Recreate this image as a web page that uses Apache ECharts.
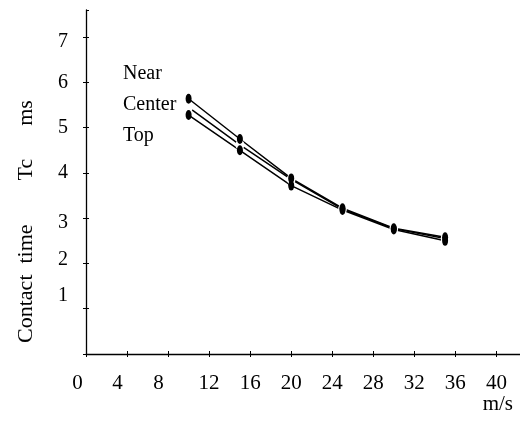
<!DOCTYPE html>
<html>
<head>
<meta charset="utf-8">
<script src="https://cdn.jsdelivr.net/npm/echarts@6/dist/echarts.min.js"></script>
<style>
html,body{margin:0;padding:0;background:#fff;}
#chart{width:520px;height:425px;}
</style>
</head>
<body>
<div id="chart"></div>
<script>
// ---- data ----
const speeds = [10, 15, 20, 25, 30, 35];           // m/s
const nearTc = [5.64, 4.75, 3.88, 3.22, 2.78, 2.58]; // ms
const centerTc = [5.45, 4.62, 3.86, 3.20, 2.77, 2.55];
const topTc = [5.28, 4.50, 3.72, 3.18, 2.75, 2.50];
const seriesNames = ['Near', 'Center', 'Top'];
const xAxisTitle = 'm/s';
const yAxisTitle = 'Contact  time        Tc      ms';

const FONT = "'Liberation Serif', 'DejaVu Serif', serif";
const pairs = v => speeds.map((s, i) => [s, v[i]]);

const chart = echarts.init(document.getElementById('chart'), null, {renderer: 'canvas'});

// per-label nudges for the scanned original's uneven label placement (style only)
const xRich = {
  a: {fontFamily: FONT, fontSize: 21, color: '#000', padding: [0, 17, 0, 0]},
  b: {fontFamily: FONT, fontSize: 21, color: '#000', padding: [0, 19, 0, 0]},
  n: {fontFamily: FONT, fontSize: 21, color: '#000'}
};
const yRich = {
  dn: {fontFamily: FONT, fontSize: 20, color: '#000', padding: [10, 0, 0, 0]},
  up: {fontFamily: FONT, fontSize: 20, color: '#000', padding: [0, 0, 8, 0]},
  up2: {fontFamily: FONT, fontSize: 20, color: '#000', padding: [0, 0, 26, 0]},
  n: {fontFamily: FONT, fontSize: 20, color: '#000'}
};

const baseLine = {lineStyle: {color: '#000', width: 1.5}};
const option = {
  backgroundColor: '#fff',
  animation: false,
  textStyle: {fontFamily: FONT, color: '#000'},
  grid: {left: 86, right: 0, top: 10, bottom: 71, containLabel: false},
  legend: {
    data: seriesNames,
    orient: 'vertical',
    left: 113, top: 59,
    icon: 'none', itemWidth: 0, itemHeight: 20, itemGap: 11,
    textStyle: {fontFamily: FONT, fontSize: 20, color: '#000'},
    selectedMode: false
  },
  xAxis: [{
    type: 'value', min: 0, max: 42.3, interval: 4,
    axisLine: {show: true, lineStyle: {color: '#000', width: 1.3}},
    axisTick: {show: true, inside: false, length: 3, lineStyle: {color: '#000'}},
    splitLine: {show: false},
    axisLabel: {
      margin: 19, color: '#000', fontFamily: FONT, fontSize: 21,
      showMaxLabel: false,
      formatter: v => (v === 0 ? '{a|0}' : v === 4 || v === 8 ? '{b|' + v + '}' : '{n|' + v + '}'),
      rich: xRich
    },
    name: xAxisTitle, nameLocation: 'end', nameGap: -7,
    nameTextStyle: {fontFamily: FONT, fontSize: 21, color: '#000', align: 'right', verticalAlign: 'top', padding: [40, 0, 0, 0]}
  }, {
    type: 'value', min: 0, max: 42.3, interval: 4, position: 'bottom',
    axisLine: {show: false}, axisLabel: {show: false}, splitLine: {show: false},
    axisTick: {show: true, inside: true, length: 3, lineStyle: {color: '#000'}}
  }],
  yAxis: [{
    type: 'value', min: 0, max: 7.6, interval: 1,
    axisLine: {show: true, lineStyle: {color: '#000', width: 1.3}},
    axisTick: {show: true, inside: false, length: 3, lineStyle: {color: '#000'}},
    splitLine: {show: false},
    axisLabel: {
      margin: 18, color: '#000', fontFamily: FONT, fontSize: 20,
      showMaxLabel: false,
      formatter: v => {
        if (v === 0) return '';
        if (v === 7 || v === 3) return '{dn|' + v + '}';
        if (v === 2) return '{up|' + v + '}';
        if (v === 1) return '{up2|' + v + '}';
        return '{n|' + v + '}';
      },
      rich: yRich
    },
    name: yAxisTitle, nameLocation: 'middle', nameRotate: 90, nameGap: 49,
    nameTextStyle: {fontFamily: FONT, fontSize: 22, color: '#000', padding: [0, 79, 0, 0]}
  }, {
    type: 'value', min: 0, max: 7.6, interval: 1, position: 'left',
    axisLine: {show: false}, axisLabel: {show: false}, splitLine: {show: false},
    axisTick: {show: true, inside: true, length: 3, lineStyle: {color: '#000'}}
  }],
  series: [
    Object.assign({
      name: 'Center', type: 'line', data: pairs(centerTc),
      symbol: 'emptyCircle', symbolSize: [7, 9],
      itemStyle: {color: '#fff', borderColor: '#000', borderWidth: 1.5}
    }, baseLine),
    Object.assign({
      name: 'Near', type: 'line', data: pairs(nearTc),
      symbol: 'circle', symbolSize: [6, 10],
      itemStyle: {color: '#000'}
    }, baseLine),
    Object.assign({
      name: 'Top', type: 'line', data: pairs(topTc),
      symbol: 'circle', symbolSize: [6, 10],
      itemStyle: {color: '#000'}
    }, baseLine)
  ]
};
chart.setOption(option);
</script>
</body>
</html>
